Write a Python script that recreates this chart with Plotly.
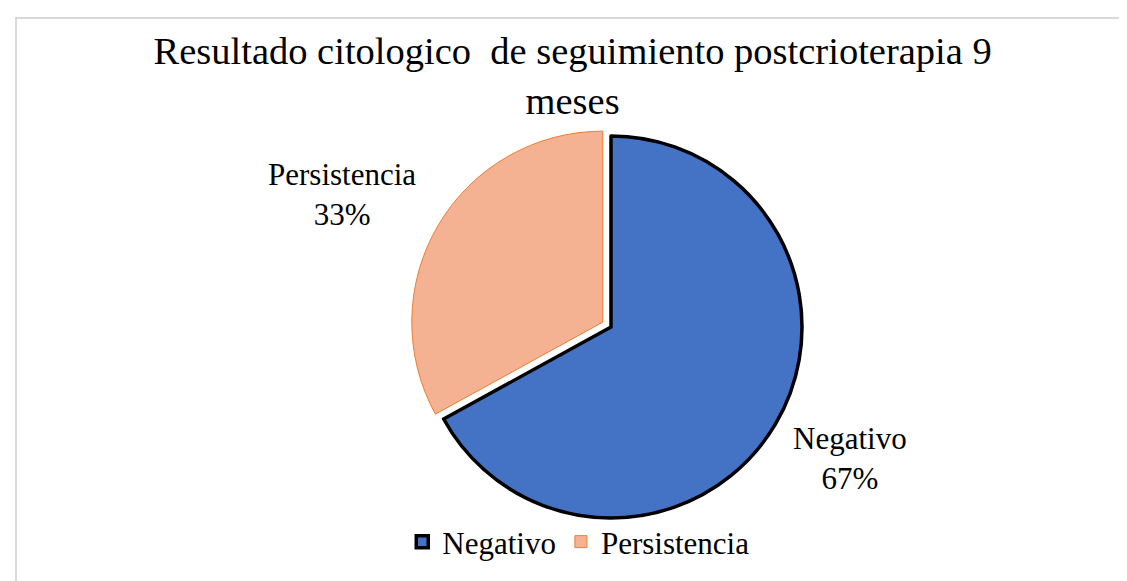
import math
import plotly.graph_objects as go

categories = ["Negativo", "Persistencia"]
values = [67, 33]
fill_colors = ["#4472C4", "#F4B293"]
line_colors = ["#000000", "#ED7D31"]
line_widths = [3.5, 1]
pulls = [0, 0.05]
title_text = "Resultado citologico  de seguimiento postcrioterapia 9<br>meses"

W, H = 1127, 581
FONT = "Liberation Serif"

# pie placement (pixels); plotly recentres a pulled pie, so this is the box centre
cx, cy, r = 603, 319, 191
half = r * (1 + max(pulls))
dom_x = [(cx - half) / W, (cx + half) / W]
dom_y = [(H - cy - half) / H, (H - cy + half) / H]

fig = go.Figure(go.Pie(
    labels=categories,
    values=values,
    sort=False,
    direction="clockwise",
    rotation=0,
    pull=pulls,
    marker=dict(colors=fill_colors, line=dict(color=line_colors, width=line_widths)),
    textinfo="none",
    domain=dict(x=dom_x, y=dom_y),
    hoverinfo="label+percent",
))

# data labels placed beside the middle of each slice's arc (derived from the values)
true_cx, true_cy = cx + 7, cy + 8
total = sum(values)
annotations = []
start = 0.0
for lab, v, p in zip(categories, values, pulls):
    frac = v / total
    mid = (start + frac / 2) * 2 * math.pi  # clockwise from 12 o'clock
    start += frac
    dx, dy = math.sin(mid), -math.cos(mid)  # screen direction (y down)
    ox, oy = true_cx + dx * p * r, true_cy + dy * p * r
    px, py = ox + dx * r, oy + dy * r
    right = dx > 0
    down = dy > 0
    annotations.append(dict(
        text=f"{lab}<br>{round(frac * 100)}%",
        x=px / W, y=1 - py / H, xref="paper", yref="paper",
        xanchor="left" if right else "right",
        yanchor="top" if down else "bottom",
        xshift=9 if right else -27,
        yshift=13 if down else -1,
        showarrow=False, align="center",
        font=dict(family=FONT, size=31, color="#000000"),
    ))

fig.update_layout(
    width=W, height=H,
    margin=dict(l=0, r=0, t=0, b=0),
    paper_bgcolor="white",
    plot_bgcolor="white",
    font=dict(family=FONT, color="#000000"),
    title=dict(text=title_text, font=dict(family=FONT, size=38.5, color="#000000"),
               x=0.501, xanchor="center", yref="container", y=1 - 56 / H, yanchor="top"),
    legend=dict(orientation="h", x=0.506, xanchor="center", y=20 / H, yanchor="bottom",
                font=dict(family=FONT, size=31, color="#000000"),
                bgcolor="rgba(0,0,0,0)"),
    annotations=annotations,
    shapes=[dict(type="rect", xref="paper", yref="paper",
                 x0=8 / W, x1=1.01, y0=-0.01, y1=1 - 10 / H,
                 line=dict(color="#D9D9D9", width=2), fillcolor="rgba(0,0,0,0)", layer="below")],
)

fig.write_html("out.html")
